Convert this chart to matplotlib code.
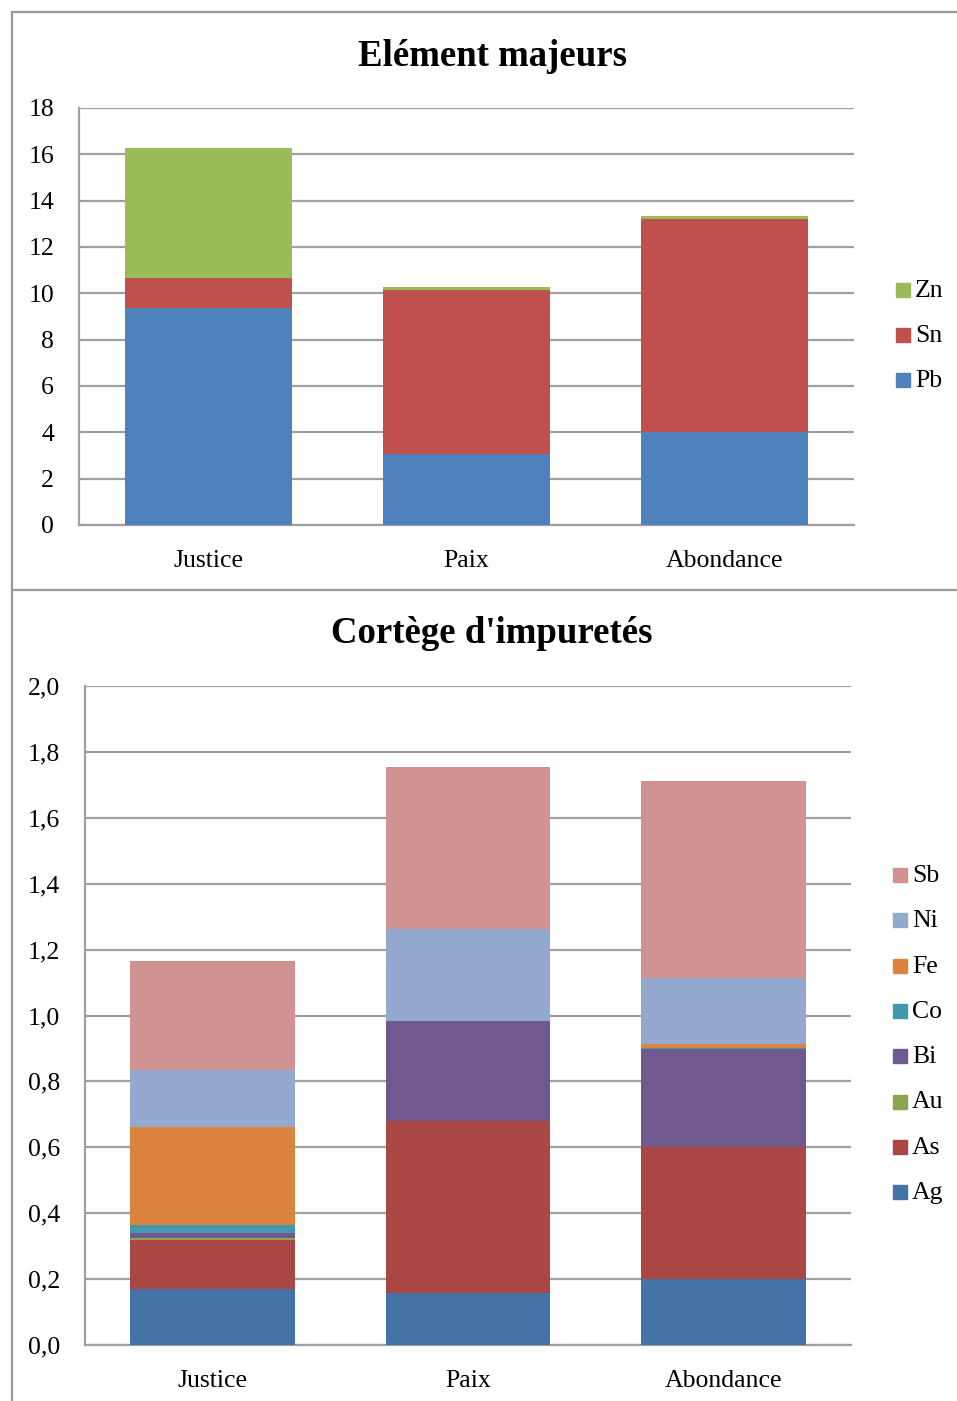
import matplotlib
matplotlib.use("Agg")
import matplotlib.pyplot as plt
import numpy as np
from matplotlib.lines import Line2D
from matplotlib.patches import Rectangle

categories = ["Justice", "Paix", "Abondance"]

# Major elements
major_names = ["Pb", "Sn", "Zn"]
Pb = [9.37, 3.06, 4.01]
Sn = [1.29, 7.08, 9.19]
Zn = [5.61, 0.13, 0.14]
major_colors = ["#4F81BD", "#C0504D", "#9BBB59"]

# Impurities
imp_names = ["Ag", "As", "Au", "Bi", "Co", "Fe", "Ni", "Sb"]
Ag = [0.170, 0.158, 0.200]
As = [0.148, 0.522, 0.401]
Au = [0.008, 0.000, 0.000]
Bi = [0.015, 0.303, 0.297]
Co = [0.022, 0.000, 0.003]
Fe = [0.300, 0.000, 0.011]
Ni = [0.172, 0.280, 0.201]
Sb = [0.330, 0.491, 0.599]
imp_colors = ["#4572A7", "#AA4643", "#89A54E", "#71588F", "#4198AF",
              "#DB843D", "#93A9CF", "#D19392"]

plt.rcParams['font.family'] = ['Liberation Serif', 'DejaVu Serif']

W, H = 957, 1401
fig = plt.figure(figsize=(W / 100, H / 100), dpi=100)

def px_axes(l, t, r, b):
    return fig.add_axes([l / W, 1 - b / H, (r - l) / W, (b - t) / H])

grid_col = "#A0A0A0"
FS = 18.5

def style(ax, ymax, step, fmt):
    ax.set_ylim(0, ymax)
    ax.set_xlim(-0.5, 2.5)
    ticks = np.arange(0, ymax + step / 2, step)
    ax.set_yticks(ticks)
    ax.set_yticklabels([fmt(t) for t in ticks], fontsize=FS)
    ax.set_xticks(range(3))
    ax.set_xticklabels(categories, fontsize=FS)
    ax.tick_params(axis='x', length=0, pad=18)
    ax.tick_params(axis='y', length=0, pad=18)
    ax.yaxis.grid(True, color=grid_col, linewidth=1.6)
    ax.set_axisbelow(True)
    for s in ["top", "right"]:
        ax.spines[s].set_visible(False)
    for s in ["left", "bottom"]:
        ax.spines[s].set_color(grid_col)
        ax.spines[s].set_linewidth(1.6)

# Top chart
ax1 = px_axes(79, 108, 854, 525)
x = np.arange(3)
bottom = np.zeros(3)
for name, vals, c in zip(major_names, [Pb, Sn, Zn], major_colors):
    ax1.bar(x, vals, 0.646, bottom=bottom, color=c, edgecolor="none", zorder=3)
    bottom += np.array(vals)
style(ax1, 18, 2, lambda t: f"{int(t)}")
fig.text(492 / W, 1 - 56 / H, "Elément majeurs", ha="center", va="center",
         fontsize=26.5, fontweight="bold")

# Bottom chart
ax2 = px_axes(85, 686, 851, 1345)
bottom = np.zeros(3)
for name, vals, c in zip(imp_names, [Ag, As, Au, Bi, Co, Fe, Ni, Sb], imp_colors):
    ax2.bar(x, vals, 0.646, bottom=bottom, color=c, edgecolor="none", zorder=3)
    bottom += np.array(vals)
style(ax2, 2.0, 0.2, lambda t: f"{t:.1f}".replace(".", ","))
fig.text(492 / W, 1 - 633 / H, "Cortège d'impuretés", ha="center", va="center",
         fontsize=26.5, fontweight="bold")

# Legends (manual, reversed order)
def legend(names, colors, x0, y0, dy):
    for i, (n, c) in enumerate(zip(names[::-1], colors[::-1])):
        yc = y0 + i * dy
        fig.add_artist(Rectangle((x0 / W, 1 - (yc + 7) / H), 14 / W, 14 / H,
                                 transform=fig.transFigure, color=c))
        fig.text((x0 + 19) / W, 1 - (yc + 1) / H, n, ha="left", va="center", fontsize=FS)

legend(major_names, major_colors, 896, 290, 45)
legend(imp_names, imp_colors, 893, 875, 45.3)

# Frame lines
fc = "#9A9A9A"
for (xs, ys) in [((12, W), (12, 12)), ((12, 12), (12, H)), ((12, W), (590, 590))]:
    fig.add_artist(Line2D([xs[0] / W, xs[1] / W], [1 - ys[0] / H, 1 - ys[1] / H],
                          transform=fig.transFigure, color=fc, linewidth=1.6))

fig.savefig("out.png", dpi=100, facecolor="white")
